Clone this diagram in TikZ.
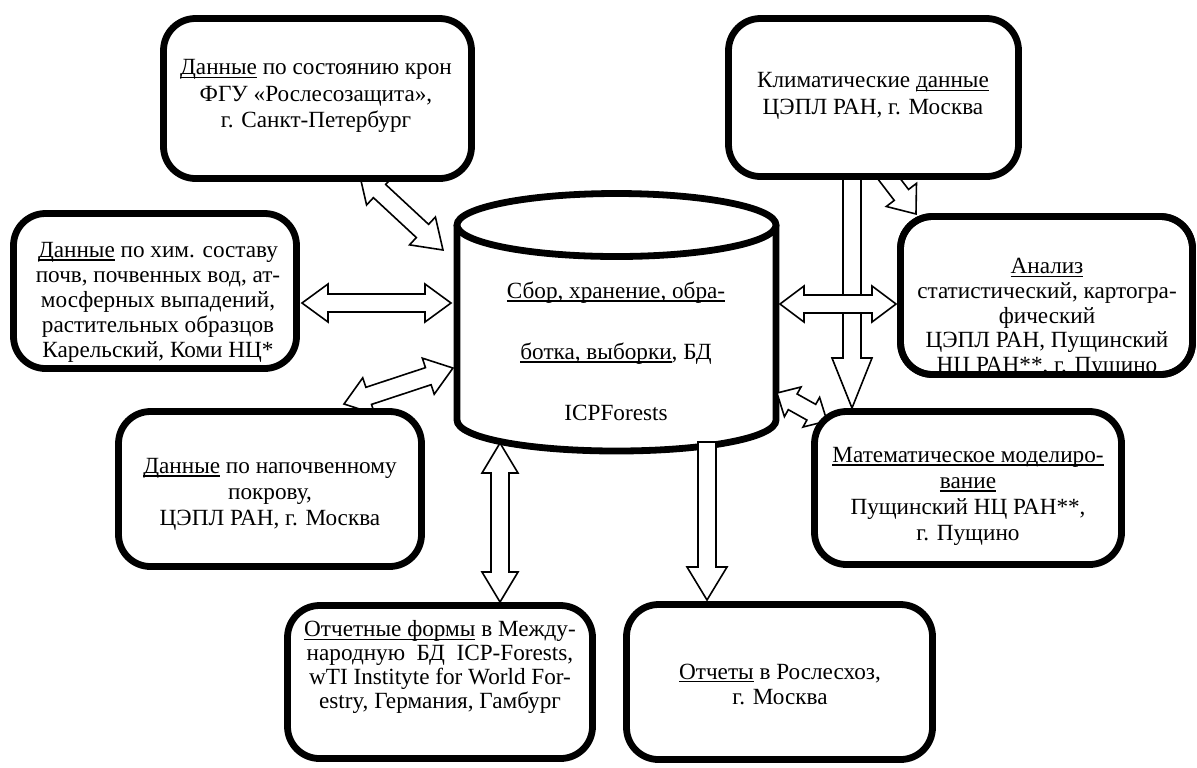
\documentclass[tikz,border=0pt]{standalone}
\usepackage{fontspec}
\setmainfont{Liberation Serif}
\usetikzlibrary{calc}
\newsavebox\myulbox
\newcommand\myul[1]{\sbox\myulbox{#1}\rlap{\rule[-1.7pt]{\wd\myulbox}{0.6pt}}\usebox\myulbox}
\tikzset{
 box/.style={draw=black, line width=3.4pt, rounded corners=16pt, fill=white, inner sep=0pt},
 boxline/.style={draw=black, line width=3.4pt, rounded corners=16pt, inner sep=0pt},
 txt/.style={align=center, inner sep=0pt, text=black},
 barrow/.style={draw=black, line width=0.8pt, fill=white, line join=miter},
 cyl/.style={draw=black, line width=3.4pt, fill=white},
}
% #1 from, #2 to, #3 head length, #4 head half width, #5 1=double 0=single
\newcommand\blockarrow[5]{%
  \pgfpointdiff{\pgfpointanchor{#1}{center}}{\pgfpointanchor{#2}{center}}%
  \pgfgetlastxy{\myBAx}{\myBAy}%
  \pgfmathsetmacro\myBAang{atan2(\myBAy,\myBAx)}%
  \pgfmathsetlengthmacro\myBAlen{veclen(\myBAx,\myBAy)}%
  \pgfmathsetlengthmacro\myBAb{\myBAlen-#3}%
  \begin{scope}[shift={(#1)},rotate=\myBAang]%
  \ifnum#5=1\relax
    \draw[barrow] (0pt,0pt) -- (#3,#4) -- (#3,4.5pt) -- (\myBAb,4.5pt) -- (\myBAb,#4) -- (\myBAlen,0pt) -- (\myBAb,-#4) -- (\myBAb,-4.5pt) -- (#3,-4.5pt) -- (#3,-#4) -- cycle;%
  \else
    \draw[barrow] (0pt,4.5pt) -- (\myBAb,4.5pt) -- (\myBAb,#4) -- (\myBAlen,0pt) -- (\myBAb,-#4) -- (\myBAb,-4.5pt) -- (0pt,-4.5pt) -- cycle;%
  \fi
  \end{scope}}
\begin{document}
\begin{tikzpicture}[x=0.5pt,y=-0.5pt]
\useasboundingbox (0,0) rectangle (1197,767);
\fill[white] (0,0) rectangle (1197,767);

% database cylinder
\coordinate (db) at (616.5,330);
\path[cyl] (457,225) -- (457,420) .. controls (457,438) and (528.5,451) .. (616.5,451) .. controls (704.5,451) and (776,438) .. (776,420) -- (776,225);
\draw[cyl] (616.5,225) ellipse [x radius=159.5, y radius=31.5];
\node[txt, font=\fontsize{11.6}{30.5}\selectfont] (dbtext) at (616,351)
  {\myul{Сбор, хранение, обра-}\\ \myul{ботка, выборки}, БД\\ ICPForests};

% arrow end points
\coordinate (a1s) at (359,172);  \coordinate (a1e) at (443,250);
\coordinate (a2s) at (302,303);  \coordinate (a2e) at (451,303);
\coordinate (a3s) at (344,404);  \coordinate (a3e) at (453,368);
\coordinate (a4s) at (500,443);  \coordinate (a4e) at (500,602);
\coordinate (a5s) at (707,442);  \coordinate (a5e) at (707,600);
\coordinate (a6s) at (852,170);  \coordinate (a6e) at (852,408);
\coordinate (a7s) at (880,167);  \coordinate (a7e) at (916,214);
\coordinate (a8s) at (780,304);  \coordinate (a8e) at (896,304);
\coordinate (a9s) at (777,393);  \coordinate (a9e) at (827,421);

\blockarrow{a1s}{a1e}{14pt}{9.5pt}{1}
\blockarrow{a2s}{a2e}{13pt}{9.5pt}{1}
\blockarrow{a3s}{a3e}{13pt}{9.5pt}{1}
\blockarrow{a4s}{a4e}{15pt}{9pt}{1}
\blockarrow{a5s}{a5e}{16.5pt}{10pt}{0}
\blockarrow{a6s}{a6e}{25pt}{10pt}{0}
\blockarrow{a7s}{a7e}{12pt}{9.5pt}{0}
\blockarrow{a8s}{a8e}{12pt}{9pt}{1}
\blockarrow{a9s}{a9e}{9pt}{8.5pt}{1}

% boxes
\node[box, minimum width=154pt, minimum height=80pt] (A) at (317.5,98.5) {};
\node[box, minimum width=145pt, minimum height=79pt] (B) at (873.5,97.5) {};
\node[box, minimum width=141.5pt, minimum height=77.5pt] (C) at (155,291) {};
\node[box, minimum width=151.5pt, minimum height=77.5pt] (D) at (270,489) {};
\node[box, minimum width=146pt, minimum height=79pt] (E) at (1046.5,295.5) {};
\node[box, minimum width=153.5pt, minimum height=76.5pt] (F) at (968,488) {};
\node[box, minimum width=152.5pt, minimum height=76.5pt] (G) at (440,682) {};
\node[box, minimum width=153pt, minimum height=77.5pt] (H) at (779.5,682) {};

% texts
\node[txt, font=\fontsize{11.6}{13.3}\selectfont] (Atext) at (316,96)
  {\myul{Данные} по состоянию крон\\ ФГУ «Рослесозащита»,\\ г. Санкт-Петербург};
\node[txt, font=\fontsize{11.6}{13.5}\selectfont] (Btext) at (873,96)
  {Климатические \myul{данные}\\ ЦЭПЛ РАН, г. Москва};
\node[txt, font=\fontsize{11.6}{12.5}\selectfont] (Ctext) at (158,302)
  {\myul{Данные} по хим. составу\\ почв, почвенных вод, ат-\\ мосферных выпадений,\\ растительных образцов\\ Карельский, Коми НЦ*};
\node[txt, font=\fontsize{11.6}{13}\selectfont] (Dtext) at (270,494)
  {\myul{Данные} по напочвенному\\ покрову,\\ ЦЭПЛ РАН, г. Москва};
\node[txt, font=\fontsize{11.6}{12.3}\selectfont] (Etext) at (1047,318)
  {\myul{Анализ}\\ статистический, картогра-\\ фический\\ ЦЭПЛ РАН, Пущинский\\ НЦ РАН**, г. Пущино};
\node[boxline, minimum width=146pt, minimum height=79pt] (Eborder) at (1046.5,295.5) {};
\node[txt, font=\fontsize{11.6}{13}\selectfont] (Ftext) at (968,496)
  {\myul{Математическое моделиро-}\\ \myul{вание}\\ Пущинский НЦ РАН**,\\ г. Пущино};
\node[txt, font=\fontsize{11.6}{12}\selectfont] (Gtext) at (440,667)
  {\myul{Отчетные формы} в Между-\\ народную\ \ БД\ \ ICP-Forests,\\ wTI Instityte for World For-\\ estry, Германия, Гамбург};
\node[txt, font=\fontsize{11.6}{12.5}\selectfont] (Htext) at (780,684)
  {\myul{Отчеты} в Рослесхоз,\\ г. Москва};
\end{tikzpicture}
\end{document}
